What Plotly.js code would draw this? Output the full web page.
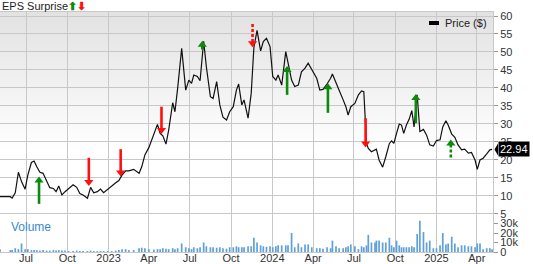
<!DOCTYPE html>
<html>
<head>
<meta charset="utf-8">
<script src="https://cdn.plot.ly/plotly-3.0.1.min.js"></script>
<style>html,body{margin:0;padding:0;background:#fff;}#chart{width:533px;height:264px;}</style>
</head>
<body>
<div id="chart"></div>
<script>
const priceDates = ['2022-05-04','2022-05-27','2022-05-31','2022-06-07','2022-06-14','2022-06-21','2022-06-29','2022-07-05','2022-07-13','2022-07-19','2022-07-25','2022-08-01','2022-08-08','2022-08-16','2022-08-23','2022-08-31','2022-09-06','2022-09-12','2022-09-19','2022-09-26','2022-10-04','2022-10-14','2022-10-22','2022-10-29','2022-11-05','2022-11-15','2022-11-22','2022-11-29','2022-12-07','2022-12-14','2022-12-21','2022-12-30','2023-01-08','2023-01-17','2023-01-24','2023-01-31','2023-02-08','2023-02-15','2023-02-26','2023-03-10','2023-03-16','2023-03-23','2023-04-01','2023-04-12','2023-04-20','2023-04-26','2023-05-02','2023-05-09','2023-05-15','2023-05-24','2023-05-29','2023-06-04','2023-06-13','2023-06-22','2023-06-29','2023-07-05','2023-07-10','2023-07-18','2023-07-24','2023-08-01','2023-08-07','2023-08-16','2023-08-22','2023-08-30','2023-09-06','2023-09-13','2023-09-21','2023-09-28','2023-10-06','2023-10-13','2023-10-18','2023-10-25','2023-10-30','2023-11-08','2023-11-15','2023-11-21','2023-11-28','2023-12-06','2023-12-12','2023-12-19','2023-12-27','2024-01-02','2024-01-09','2024-01-14','2024-01-22','2024-01-31','2024-02-05','2024-02-13','2024-02-20','2024-02-28','2024-03-06','2024-03-14','2024-03-21','2024-03-29','2024-04-09','2024-04-16','2024-04-23','2024-05-02','2024-05-10','2024-05-14','2024-05-22','2024-05-29','2024-06-07','2024-06-13','2024-06-18','2024-06-24','2024-07-03','2024-07-11','2024-07-18','2024-07-23','2024-07-29','2024-08-02','2024-08-09','2024-08-17','2024-08-20','2024-08-26','2024-09-03','2024-09-10','2024-09-18','2024-09-23','2024-09-28','2024-10-04','2024-10-10','2024-10-15','2024-10-20','2024-10-26','2024-11-01','2024-11-07','2024-11-12','2024-11-19','2024-11-25','2024-12-03','2024-12-10','2024-12-17','2024-12-25','2025-01-01','2025-01-09','2025-01-15','2025-01-22','2025-01-27','2025-02-04','2025-02-11','2025-02-18','2025-02-26','2025-03-05','2025-03-13','2025-03-20','2025-03-28','2025-04-02','2025-04-08','2025-04-15','2025-04-23','2025-04-30','2025-05-05'];

const priceValues = [9.8,9.8,9.4,10.9,16.6,14.0,11.9,15.8,19.3,19.7,18.1,16.6,16.3,14.4,12.3,12.1,11.2,12.8,10.3,11.2,12.1,13.1,12.4,10.7,10.3,9.4,12.4,10.9,11.2,11.9,10.9,11.9,12.8,13.7,14.3,15.8,17.0,17.0,17.4,16.3,18.1,21.4,23.5,27.4,29.9,27.4,26.7,24.4,28.3,35.9,33.4,39.9,51.0,39.4,42.2,41.3,43.6,43.2,42.0,53.0,45.9,37.6,37.1,41.8,35.3,31.9,31.1,33.4,34.8,39.4,41.1,35.3,36.7,31.6,38.5,51.3,56.0,50.3,52.9,53.8,51.5,43.2,42.2,43.6,40.8,50.1,46.9,42.2,40.4,40.8,44.5,45.5,46.9,45.0,42.7,39.4,39.6,41.1,42.7,43.9,41.3,39.4,36.7,34.8,32.5,34.8,35.7,38.1,39.2,39.0,24.6,23.2,22.3,22.8,23.0,20.0,18.0,20.9,24.6,25.3,24.6,27.4,30.0,29.7,27.4,29.7,31.3,33.7,29.2,38.1,27.9,28.5,26.9,24.2,23.9,25.4,25.6,29.2,30.9,29.7,27.2,26.3,24.2,22.8,23.0,21.9,22.1,20.0,17.4,20.0,20.5,21.7,22.8,22.94];

const volumeValues = [3000,2000,2000,4000,3000,9000,3000,3000,2000,2000,2000,1500,2000,1500,1500,2000,1500,2000,1500,1500,1000,1000,1500,1000,1000,1000,1500,1000,1000,1000,1000,1000,1000,1500,2000,3000,3000,2000,2000,4000,4500,4000,3000,2500,3000,3000,4000,3500,3000,4000,3000,4000,9000,5000,4000,3000,5000,4000,5000,10000,6000,5000,5000,4500,5000,4000,3500,5000,5000,6000,5000,5000,5000,6000,6000,15000,10000,7000,6000,5500,6000,5000,6000,7000,7000,7000,7000,20000,5000,9000,5000,8000,8000,5000,4000,4000,3500,5000,4000,12000,6000,4000,4000,5000,6000,8000,6000,3000,6000,5000,7000,18000,10000,10000,12000,12000,10000,10000,15000,7000,5000,12000,7000,5000,5000,5000,5000,6000,5000,19000,33000,21000,10000,12000,4000,4000,7000,20000,8000,9000,16000,9000,5000,7000,7000,6000,6000,5000,9000,9000,3000,4000,4000,3000];

// EPS surprise events: date, arrow tail price, arrow tip price, beat/miss, dashed
const epsDates = ['2022-07-30','2022-11-18','2023-01-28','2023-04-29','2023-07-29','2023-11-18','2024-02-03','2024-05-04','2024-07-27','2024-11-16','2025-02-02'];
const epsFrom  = [7.8, 20.6, 23.0, 34.8, 50.7, 57.8, 38.1, 33.1, 31.6, 30.2, 20.7];
const epsTo    = [15.4, 12.8, 15.4, 27.2, 53.1, 51.3, 46.1, 41.3, 23.5, 38.3, 25.7];
const epsBeat  = [true, false, false, false, true, false, true, true, false, true, true];
const epsDashed= [false, false, false, false, false, true, false, false, false, false, true];

const xTickVals = ['2022-07-01','2022-10-01','2023-01-01','2023-04-01','2023-07-01','2023-10-01','2024-01-01','2024-04-01','2024-07-01','2024-10-01','2025-01-01','2025-04-01'];
const xTickText = ['Jul','Oct','2023','Apr','Jul','Oct','2024','Apr','Jul','Oct','2025','Apr'];
const priceTicks = [5,10,15,20,25,30,35,40,45,50,55,60];
const volTickVals = [0,10000,20000,30000];
const volTickText = ['0','10k','20k','30k'];

const W = 533, H = 264;
const M = {l:0, r:40, t:12, b:12};
const plotH = H - M.t - M.b;
const yRange = [-5.56, 61.11];
const unitsPerPx = (yRange[1]-yRange[0]) / plotH;
const GREEN = '#0b8a0b', RED = '#ff1010';
const FONT = 'Liberation Sans, Arial, sans-serif';

const traces = [];
traces.push({
  type:'bar', x: priceDates, y: volumeValues, yaxis:'y2',
  marker:{color:'#5fa0da'}, width: 3.8*24*3600*1000, hoverinfo:'skip', showlegend:false
});
traces.push({
  type:'scatter', mode:'lines', x: priceDates, y: priceValues,
  line:{color:'#111', width:1.2}, showlegend:false
});

const headSize = 8;
for (let i=0;i<epsDates.length;i++){
  const dir = epsTo[i] > epsFrom[i] ? 1 : -1;
  const col = epsBeat[i] ? GREEN : RED;
  const center = epsTo[i] - dir*(headSize/2)*unitsPerPx;
  traces.push({
    type:'scatter', mode:'lines', x:[epsDates[i], epsDates[i]], y:[epsFrom[i], center],
    line:{color:col, width:2.6, dash: epsDashed[i] ? '3px,2px' : 'solid'}, showlegend:false, hoverinfo:'skip'
  });
  traces.push({
    type:'scatter', mode:'markers', x:[epsDates[i]], y:[center],
    marker:{symbol: dir>0 ? 'triangle-up' : 'triangle-down', size: headSize, color: col, line:{width:0}},
    showlegend:false, hoverinfo:'skip'
  });
}

const lastPrice = priceValues[priceValues.length-1];
const pxX = px => px / (W - M.l - M.r);

const gradSvg = "<svg xmlns='http://www.w3.org/2000/svg' width='10' height='100' preserveAspectRatio='none'><defs><linearGradient id='g' x1='0' y1='0' x2='0' y2='1'><stop offset='0' stop-color='#e2e2e2'/><stop offset='1' stop-color='#ffffff'/></linearGradient></defs><rect width='10' height='100' fill='url(#g)'/></svg>";
const gradSrc = 'data:image/svg+xml;charset=utf-8,' + encodeURIComponent(gradSvg);

const layout = {
  width: W, height: H,
  margin: {l:M.l, r:M.r, t:M.t, b:M.b, pad:0},
  paper_bgcolor:'#ffffff', plot_bgcolor:'rgba(0,0,0,0)',
  showlegend:false,
  font:{family:FONT, size:11, color:'#333'},
  images:[{source:gradSrc, xref:'paper', yref:'paper', x:0, y:1, sizex:1, sizey:0.58, sizing:'stretch', xanchor:'left', yanchor:'top', layer:'below'}],
  xaxis:{
    type:'date', range:['2022-05-04','2025-05-07'],
    tickmode:'array', tickvals:xTickVals, ticktext:xTickText,
    showgrid:true, gridcolor:'#c8c8c8', gridwidth:1,
    ticks:'', ticklabelstandoff:-4, showline:true, mirror:true, linecolor:'#c8c8c8', zeroline:false,
    tickfont:{family:FONT, size:11, color:'#333'}
  },
  yaxis:{
    range:yRange, side:'right', tickmode:'array', tickvals:priceTicks,
    showgrid:true, gridcolor:'#c8c8c8', gridwidth:1, zeroline:false,
    ticks:'outside', ticklen:4, tickcolor:'#999', showline:true, mirror:true, linecolor:'#c8c8c8',
    tickfont:{family:FONT, size:11, color:'#333'}
  },
  yaxis2:{
    overlaying:'y', side:'right', range:[0, 252600], tickmode:'array',
    tickvals:volTickVals, ticktext:volTickText, showgrid:false, zeroline:false,
    ticks:'outside', ticklen:4, tickcolor:'#999', showline:false,
    tickfont:{family:FONT, size:11, color:'#333'}
  },
  shapes:[
    {type:'rect', xref:'paper', yref:'paper', x0:pxX(429), x1:pxX(439), y0:(H-M.b-25)/plotH, y1:(H-M.b-21)/plotH, fillcolor:'#000', line:{width:0}},
    {type:'path', xref:'paper', yref:'y', fillcolor:'#000', line:{width:0},
     path:`M ${1+pxX(1.5)},${lastPrice} L ${1+pxX(5)},${lastPrice+6*unitsPerPx} L ${1+pxX(5)},${lastPrice-6*unitsPerPx} Z`}
  ],
  annotations:[
    {xref:'paper', yref:'paper', x:0, y:1, xanchor:'left', yanchor:'middle', yshift:6, showarrow:false,
     text:"EPS Surprise<b><span style='color:#0b8a0b'>⬆</span><span style='color:#ff1010'>⬇</span></b>", font:{family:FONT, size:11, color:'#222'}},
    {xref:'paper', yref:'paper', x:pxX(443), y:(H-M.b-23)/plotH, xanchor:'left', yanchor:'middle', showarrow:false,
     text:'Price ($)', font:{family:FONT, size:11, color:'#222'}},
    {xref:'paper', yref:'paper', x:pxX(9), y:(H-M.b-227)/plotH, xanchor:'left', yanchor:'middle', showarrow:false,
     text:'Volume', font:{family:FONT, size:12, color:'#3a8ad0'}},
    {xref:'paper', yref:'y', x:1, y:lastPrice, xanchor:'left', yanchor:'middle', xshift:5, showarrow:false,
     text: lastPrice.toFixed(2), bgcolor:'#000', borderpad:1, font:{family:FONT, size:11, color:'#fff'}}
  ]
};

Plotly.newPlot('chart', traces, layout, {displayModeBar:false, staticPlot:true});
</script>
</body>
</html>
